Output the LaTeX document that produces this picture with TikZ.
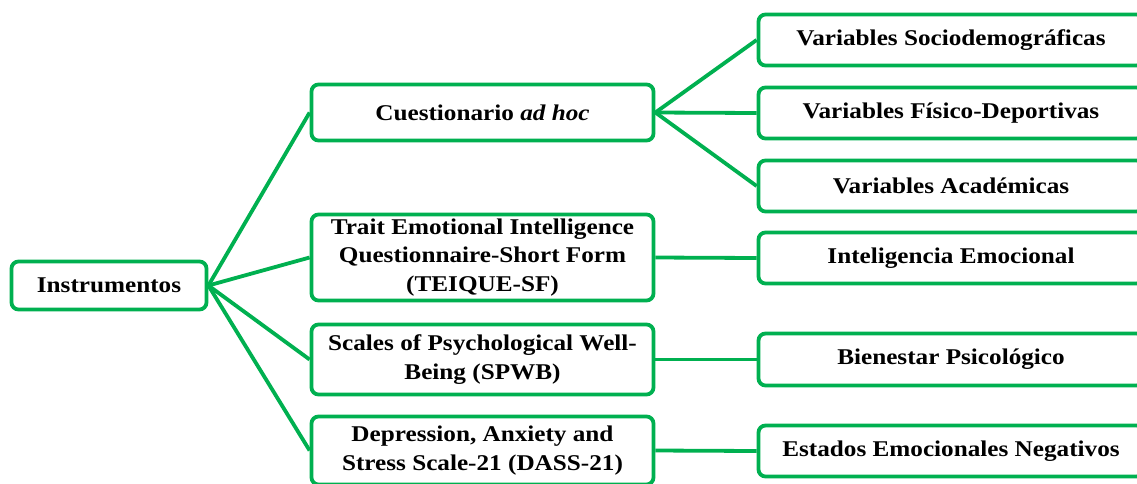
\documentclass[tikz,border=0pt]{standalone}
\usepackage{fontspec}
\setmainfont{Liberation Serif}[FakeStretch=1.12]
\definecolor{boxgreen}{RGB}{0,176,80}
\tikzset{
  box/.style={draw=boxgreen, line width=3.8pt, rounded corners=7pt, fill=white,
    align=center, inner sep=0pt,
    font=\fontsize{22.5}{28.5}\selectfont\bfseries},
  link/.style={draw=boxgreen, line width=3.8pt},
}
\begin{document}
\begin{tikzpicture}[x=1pt,y=-1pt]
\useasboundingbox (0,0) rectangle (1137,483);
\clip (0,0) rectangle (1137,483);
% root
\node[box, minimum width=195pt, minimum height=48pt] (inst) at (109,285.5) {Instrumentos};
% instruments
\node[box, minimum width=342pt, minimum height=56pt] (cue) at (482.5,112.5) {Cuestionario \textit{ad hoc}};
\node[box, minimum width=342pt, minimum height=86pt] (tei) at (482.5,257.5) {Trait Emotional Intelligence\\Questionnaire-Short Form\\(TEIQUE-SF)};
\node[box, minimum width=342pt, minimum height=70pt] (spw) at (482.5,359.5) {Scales of Psychological Well-\\Being (SPWB)};
\node[box, minimum width=342pt, minimum height=68pt] (das) at (482.5,450.5) {Depression, Anxiety and\\Stress Scale-21 (DASS-21)};
% measured variables
\node[box, minimum width=385pt, minimum height=51pt] (v1) at (951,40) {Variables Sociodemográficas};
\node[box, minimum width=385pt, minimum height=51pt] (v2) at (951,113) {Variables Físico-Deportivas};
\node[box, minimum width=385pt, minimum height=51pt] (v3) at (951,186) {Variables Académicas};
\node[box, minimum width=385pt, minimum height=51pt] (ie) at (951,258) {Inteligencia Emocional};
\node[box, minimum width=385pt, minimum height=52pt] (bp) at (951,359.5) {Bienestar Psicológico};
\node[box, minimum width=385pt, minimum height=51pt] (en) at (951,451) {Estados Emocionales Negativos};
% connectors
\foreach \t in {cue,tei,spw,das} \draw[link] (inst.east) -- (\t.west);
\foreach \t in {v1,v2,v3} \draw[link] (cue.east) -- (\t.west);
\draw[link] (tei.east) -- (ie.west);
\draw[link] (spw.east) -- (bp.west);
\draw[link] (das.east) -- (en.west);
\end{tikzpicture}
\end{document}
